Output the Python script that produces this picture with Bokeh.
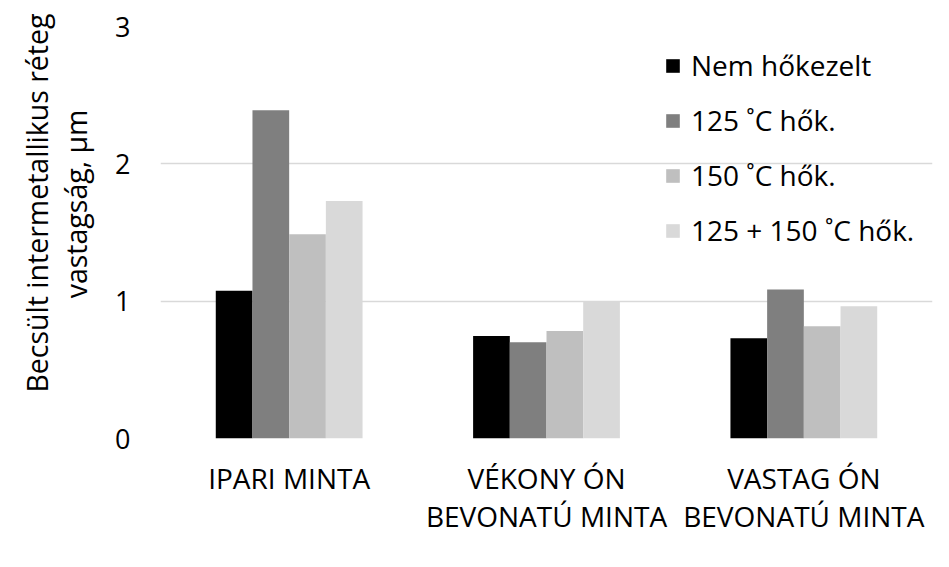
from bokeh.plotting import figure
from bokeh.models import ColumnDataSource, FactorRange, FixedTicker, Legend, LegendItem, Title
from bokeh.transform import dodge
from bokeh.embed import file_html
from bokeh.resources import INLINE

categories = ["IPARI MINTA", "VÉKONY ÓN\nBEVONATÚ MINTA", "VASTAG ÓN\nBEVONATÚ MINTA"]
series_names = ["Nem hőkezelt", "125 ˚C hők.", "150 ˚C hők.", "125 + 150 ˚C hők."]
nem_hokezelt = [1.075, 0.747, 0.73]
hok_125 = [2.39, 0.70, 1.085]
hok_150 = [1.487, 0.783, 0.818]
hok_125_150 = [1.73, 0.995, 0.963]
y_ticks = [0, 1, 2, 3]
y_title_1 = "Becsült intermetallikus réteg"
y_title_2 = "vastagság, µm"

colors = ["#000000", "#7f7f7f", "#bfbfbf", "#d9d9d9"]
FONT = "Open Sans"
FS = "28px"

src = ColumnDataSource(dict(cat=categories, s0=nem_hokezelt, s1=hok_125, s2=hok_150, s3=hok_125_150))

p = figure(x_range=FactorRange(*categories), y_range=(0, 3), width=933, height=551,
           output_backend="svg", toolbar_location=None,
           min_border_left=160, min_border_right=1, min_border_top=26, min_border_bottom=113)
p.outline_line_color = None
p.background_fill_color = "white"
p.border_fill_color = "white"

bw = 0.1426
offsets = [-1.5 * bw, -0.5 * bw, 0.5 * bw, 1.5 * bw]
renderers = []
for i, key in enumerate(["s0", "s1", "s2", "s3"]):
    r = p.vbar(x=dodge("cat", offsets[i], range=p.x_range), top=key, width=bw, source=src,
               fill_color=colors[i], line_color=None)
    renderers.append(r)

p.xgrid.grid_line_color = None
p.ygrid.grid_line_color = "#d9d9d9"
p.ygrid.grid_line_width = 1.6
p.ygrid.ticker = FixedTicker(ticks=y_ticks)

p.yaxis.ticker = FixedTicker(ticks=y_ticks)
p.yaxis.axis_line_color = None
p.yaxis.major_tick_line_color = None
p.yaxis.minor_tick_line_color = None
p.yaxis.major_label_standoff = 24
p.yaxis.major_label_text_font = FONT
p.yaxis.major_label_text_font_size = "27px"
p.yaxis.major_label_text_color = "#000000"

p.xaxis.axis_line_color = None
p.xaxis.major_tick_line_color = None
p.xaxis.major_label_standoff = 14
p.xaxis.major_label_text_font = FONT
p.xaxis.major_label_text_font_size = FS
p.xaxis.major_label_text_color = "#000000"
p.xaxis.major_label_text_line_height = 1.0

legend = Legend(items=[LegendItem(label=n, renderers=[r]) for n, r in zip(series_names, renderers)],
                location=(504, 189), orientation="vertical",
                glyph_width=17, glyph_height=17, label_height=34, spacing=17,
                label_standoff=10, padding=0, margin=0,
                label_text_font=FONT, label_text_font_size=FS, label_text_color="#000000",
                border_line_color=None, background_fill_alpha=0)
p.add_layout(legend, "center")

spacer = Title(text=" ", standoff=0, text_font=FONT, text_font_size="11px", text_color="#ffffff")
t2 = Title(text=y_title_2, align="right", offset=83, vertical_align="middle", standoff=0,
           text_font=FONT, text_font_size="28.5px", text_font_style="normal", text_color="#000000")
t1 = Title(text=y_title_1, align="right", offset=-13, vertical_align="bottom", standoff=0,
           text_font=FONT, text_font_size="28.5px", text_font_style="normal", text_color="#000000")
p.add_layout(spacer, "left")
p.add_layout(t2, "left")
p.add_layout(t1, "left")

open("out.html", "w").write(file_html(p, INLINE))
